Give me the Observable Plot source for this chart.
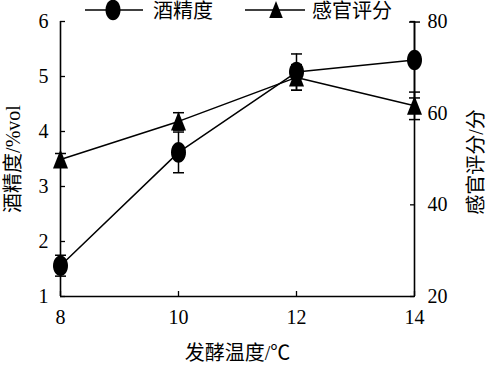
<!DOCTYPE html>
<html>
<head>
<meta charset="utf-8">
<script src="https://cdn.jsdelivr.net/npm/d3@7"></script>
<script src="https://cdn.jsdelivr.net/npm/@observablehq/plot@0.6"></script>
<style>
  body { margin: 0; background: #fff; }
  #wrap { position: relative; width: 487px; height: 367px; }
  #legend { position: absolute; left: 0; top: 0; }
</style>
</head>
<body>
<div id="wrap"></div>
<script>
// ---- data ----
const temps = [8, 10, 12, 14];
const alcohol = [1.56, 3.62, 5.08, 5.30];
const alcoholErr = [0.19, 0.37, 0.33, 0.69];
const score = [49.9, 58.2, 67.8, 61.6];
const scoreErr = [1.3, 1.9, 2.8, 3.0];
const leftTicks = [1, 2, 3, 4, 5, 6];
const rightTicks = [20, 40, 60, 80];
const xLabel = "发酵温度/℃";
const yLabelLeft = "酒精度/%vol";
const yLabelRight = "感官评分/分";
const seriesNames = ["酒精度", "感官评分"];

// right axis (20–80) mapped onto left scale (1–6)
const toLeft = s => 1 + (s - 20) / 60 * 5;

const alc = temps.map((t, i) => ({t, v: alcohol[i], lo: alcohol[i] - alcoholErr[i], hi: alcohol[i] + alcoholErr[i]}));
const sen = temps.map((t, i) => ({t, v: toLeft(score[i]), lo: toLeft(score[i] - scoreErr[i]), hi: toLeft(score[i] + scoreErr[i])}));

const ellipse = {draw(ctx) {
  const rx = 7.5, ry = 10.3, k = 0.5523;
  ctx.moveTo(rx, 0);
  ctx.bezierCurveTo(rx, ry * k, rx * k, ry, 0, ry);
  ctx.bezierCurveTo(-rx * k, ry, -rx, ry * k, -rx, 0);
  ctx.bezierCurveTo(-rx, -ry * k, -rx * k, -ry, 0, -ry);
  ctx.bezierCurveTo(rx * k, -ry, rx, -ry * k, rx, 0);
  ctx.closePath();
}};
const tri = {draw(ctx) {
  ctx.moveTo(0, -10);
  ctx.lineTo(7.5, 9);
  ctx.lineTo(-7.5, 9);
  ctx.closePath();
}};
const cap = {draw(ctx) {
  ctx.moveTo(-5.5, 0);
  ctx.lineTo(5.5, 0);
}};

const font = "Liberation Serif, Noto Sans CJK SC, serif";
const tickStyle = {tickSize: -5, tickFormat: () => "", label: null, strokeWidth: 1.3};
const txt = {fontSize: 20, fontFamily: font, fill: "#000", lineAnchor: "middle"};

const chart = Plot.plot({
  width: 487,
  height: 367,
  marginLeft: 60,
  marginRight: 73,
  marginTop: 21,
  marginBottom: 71,
  style: {fontFamily: font, fontSize: "19px", color: "#000", background: "#fff"},
  x: {domain: [8, 14]},
  y: {domain: [1, 6]},
  marks: [
    Plot.ruleX([8, 14], {stroke: "#000", strokeWidth: 1.6}),
    Plot.ruleY([1], {stroke: "#000", strokeWidth: 1.6}),
    // tick marks (inward)
    Plot.axisX({ticks: temps, ...tickStyle}),
    Plot.axisY({anchor: "left", ticks: leftTicks, ...tickStyle}),
    Plot.axisY({anchor: "right", ticks: rightTicks.map(toLeft), ...tickStyle}),
    // tick labels
    Plot.text(temps, {x: d => d, text: d => String(d), frameAnchor: "bottom", dy: 21, textAnchor: "middle", ...txt}),
    Plot.text(leftTicks, {y: d => d, text: d => String(d), frameAnchor: "left", dx: -12, textAnchor: "end", ...txt}),
    Plot.text(rightTicks, {y: d => toLeft(d), text: d => String(d), frameAnchor: "right", dx: 13, textAnchor: "start", ...txt}),
    // lines
    Plot.line(alc, {x: "t", y: "v", stroke: "#000", strokeWidth: 1.5}),
    Plot.line(sen, {x: "t", y: "v", stroke: "#000", strokeWidth: 1.5}),
    // error bars
    Plot.ruleX(alc, {x: "t", y1: "lo", y2: "hi", stroke: "#000", strokeWidth: 1.5}),
    Plot.ruleX(sen, {x: "t", y1: "lo", y2: "hi", stroke: "#000", strokeWidth: 1.5}),
    Plot.dot(alc, {x: "t", y: "hi", symbol: cap, stroke: "#000", strokeWidth: 1.5, fill: "none"}),
    Plot.dot(alc, {x: "t", y: "lo", symbol: cap, stroke: "#000", strokeWidth: 1.5, fill: "none"}),
    Plot.dot(sen, {x: "t", y: "hi", symbol: cap, stroke: "#000", strokeWidth: 1.5, fill: "none"}),
    Plot.dot(sen, {x: "t", y: "lo", symbol: cap, stroke: "#000", strokeWidth: 1.5, fill: "none"}),
    // markers
    Plot.dot(sen, {x: "t", y: "v", symbol: tri, fill: "#000", stroke: "none"}),
    Plot.dot(alc, {x: "t", y: "v", symbol: ellipse, fill: "#000", stroke: "none"}),
    // axis titles
    Plot.text([xLabel], {text: d => d, frameAnchor: "bottom", dy: 57, textAnchor: "middle", ...txt}),
    Plot.text([yLabelLeft], {text: d => d, frameAnchor: "left", dx: -47, rotate: -90, textAnchor: "middle", ...txt}),
    Plot.text([yLabelRight], {text: d => d, frameAnchor: "right", dx: 62, dy: 3, rotate: -90, textAnchor: "middle", ...txt})
  ]
});
document.getElementById("wrap").appendChild(chart);

// legend (overlaid at the top)
const leg = d3.create("svg").attr("id", "legend").attr("width", 487).attr("height", 26)
  .attr("font-family", font);
const g1 = leg.append("g");
g1.append("line").attr("x1", 85).attr("x2", 143).attr("y1", 10).attr("y2", 10).attr("stroke", "#000").attr("stroke-width", 1.5);
g1.append("path").attr("transform", "translate(113,10)").attr("d", d3.symbol(ellipse)()).attr("fill", "#000");
g1.append("text").attr("x", 153).attr("y", 11).attr("dy", "0.35em").attr("font-size", 20).text(seriesNames[0]);
const g2 = leg.append("g");
g2.append("line").attr("x1", 245).attr("x2", 305).attr("y1", 10).attr("y2", 10).attr("stroke", "#000").attr("stroke-width", 1.5);
g2.append("path").attr("transform", "translate(276,10) scale(0.9)").attr("d", d3.symbol(tri)()).attr("fill", "#000");
g2.append("text").attr("x", 312).attr("y", 11).attr("dy", "0.35em").attr("font-size", 20).text(seriesNames[1]);
document.getElementById("wrap").appendChild(leg.node());
</script>
</body>
</html>
